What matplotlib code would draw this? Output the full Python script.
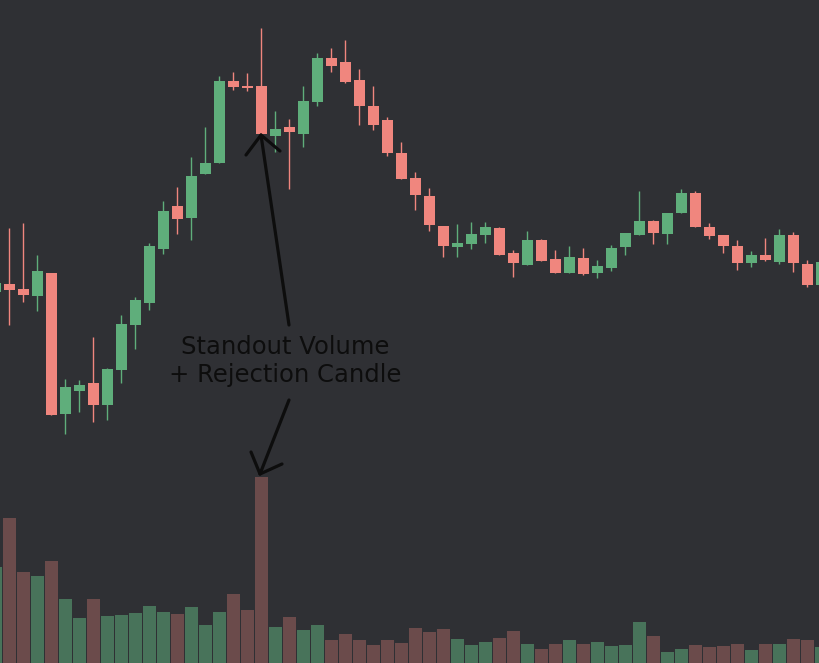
import numpy as np
import matplotlib
matplotlib.use("Agg")
import matplotlib.pyplot as plt

# region data
# candle index (-1 and 58 are only partly visible at the edges)
idx = np.arange(-1, 59)

opens = [37.1, 37.87, 37.4, 36.7, 39.0, 24.9, 27.2, 28.0, 25.8, 29.3,
         33.8, 36.0, 41.4, 45.7, 44.5, 48.9, 50.0, 58.2, 57.7, 57.7,
         52.7, 53.6, 52.9, 56.1, 60.5, 60.1, 58.3, 55.7, 54.3, 51.0,
         48.5, 46.7, 43.7, 41.6, 41.9, 42.8, 43.5, 41.0, 39.8, 42.3,
         40.4, 39.0, 40.5, 39.0, 39.5, 41.6, 42.8, 44.2, 42.9, 45.0,
         47.0, 43.6, 42.8, 41.7, 40.0, 40.8, 40.1, 42.8, 39.9, 37.8]
highs = [38.8, 43.47, 44.03, 40.8, 39.0, 28.37, 28.3, 32.6, 29.53, 34.8,
         36.63, 41.97, 46.2, 47.6, 50.6, 53.6, 58.7, 59.1, 59.0, 63.5,
         55.2, 54.4, 57.7, 61.0, 61.5, 62.3, 59.4, 57.7, 54.6, 52.1,
         49.1, 47.5, 43.7, 43.9, 44.1, 44.1, 43.6, 41.3, 43.2, 42.4,
         41.3, 41.7, 41.5, 40.3, 41.8, 43.0, 47.2, 44.3, 45.0, 47.4,
         47.2, 44.0, 42.8, 42.3, 41.2, 42.5, 43.4, 43.1, 40.3, 40.5]
lows = [36.3, 33.8, 36.13, 35.23, 24.8, 22.9, 25.13, 24.13, 24.3, 28.03,
        31.4, 35.3, 40.9, 42.9, 42.3, 48.9, 50.0, 57.3, 57.2, 52.7,
        51.1, 47.4, 51.6, 55.7, 59.1, 58.0, 53.8, 53.3, 50.7, 48.4,
        45.3, 43.2, 40.6, 40.6, 41.4, 42.0, 40.8, 38.6, 39.8, 40.2,
        39.0, 39.0, 38.8, 38.5, 39.2, 40.8, 42.8, 41.9, 41.9, 45.0,
        43.6, 42.4, 41.0, 39.3, 39.6, 40.2, 39.9, 39.1, 37.6, 37.6]
closes = [38.0, 37.33, 36.8, 39.2, 24.8, 27.6, 27.83, 25.8, 29.4, 33.9,
          36.3, 41.7, 45.2, 44.4, 48.7, 50.0, 58.2, 57.6, 57.5, 52.9,
          53.4, 53.1, 56.2, 60.5, 59.7, 58.1, 55.7, 53.8, 51.0, 48.4,
          46.8, 43.8, 41.7, 42.0, 42.9, 43.6, 40.8, 40.0, 42.3, 40.2,
          39.0, 40.6, 38.9, 39.7, 41.5, 43.0, 44.2, 43.0, 45.0, 47.0,
          43.6, 42.7, 41.7, 40.0, 40.8, 40.3, 42.8, 40.0, 37.8, 40.1]
volume = [96, 145, 91, 87, 102, 64, 45, 64, 47, 48,
          50, 57, 51, 49, 56, 38, 51, 69, 53, 186,
          36, 46, 33, 38, 23, 29, 23, 18, 23, 20,
          35, 31, 34, 24, 18, 21, 25, 32, 19, 14,
          19, 23, 19, 21, 17, 18, 41, 27, 11, 14,
          18, 16, 17, 19, 13, 19, 19, 24, 23, 16]

note_text = "Standout Volume\n+ Rejection Candle"
# endregion

BG = "#2f3034"
UP = "#5fae7b"
DOWN = "#f0867e"
UP_VOL = "#48735a"
DOWN_VOL = "#6b4b4b"


def px(x, y):
    # pixel position in the 820x663 picture -> axes fraction
    return x / 820.0, 1.0 - y / 663.0


def main():
    o = np.array(opens)
    h = np.array(highs)
    l = np.array(lows)
    c = np.array(closes)
    v = np.array(volume)
    up = c >= o

    fig = plt.figure(figsize=(8.2, 6.63), dpi=100)
    fig.patch.set_facecolor(BG)
    ax = fig.add_axes([0, 0, 1, 1])
    ax.set_facecolor(BG)
    axv = ax.twinx()

    # volume at the bottom
    axv.bar(idx, v, width=0.93, color=np.where(up, UP_VOL, DOWN_VOL), zorder=1)
    axv.set_ylim(0, v.max() * 3.565)

    # candles
    cols = np.where(up, UP, DOWN)
    ax.vlines(idx, l, h, colors=cols, linewidth=1.0, zorder=2)
    body = np.maximum(np.abs(c - o), 0.15)
    ax.bar(idx, body, bottom=np.minimum(o, c), width=0.79, color=cols, zorder=3)

    ax.set_xlim(-0.664, -0.664 + 820 / 14.0)
    ax.set_ylim(0, 66.3)
    ax.set_zorder(axv.get_zorder() + 1)
    ax.patch.set_visible(False)
    for a in (ax, axv):
        a.axis("off")

    # hand drawn style annotation
    ax.text(*px(285, 361), note_text, transform=ax.transAxes, ha="center",
            va="center", fontsize=17.5, color="#0d0d0d", linespacing=1.17,
            multialignment="center", zorder=5)
    lines = [
        [(289, 325), (261, 135)], [(246, 155), (261, 135), (280, 151)],
        [(289, 400), (260, 474)], [(251, 452), (260, 474), (282, 464)],
    ]
    for pts in lines:
        xs, ys = zip(*[px(*p) for p in pts])
        ax.plot(xs, ys, transform=ax.transAxes, color="#0d0d0d", lw=2.3,
                solid_capstyle="round", solid_joinstyle="round", zorder=5)

    fig.savefig("out.png", dpi=100, facecolor=BG)


if __name__ == "__main__":
    main()
